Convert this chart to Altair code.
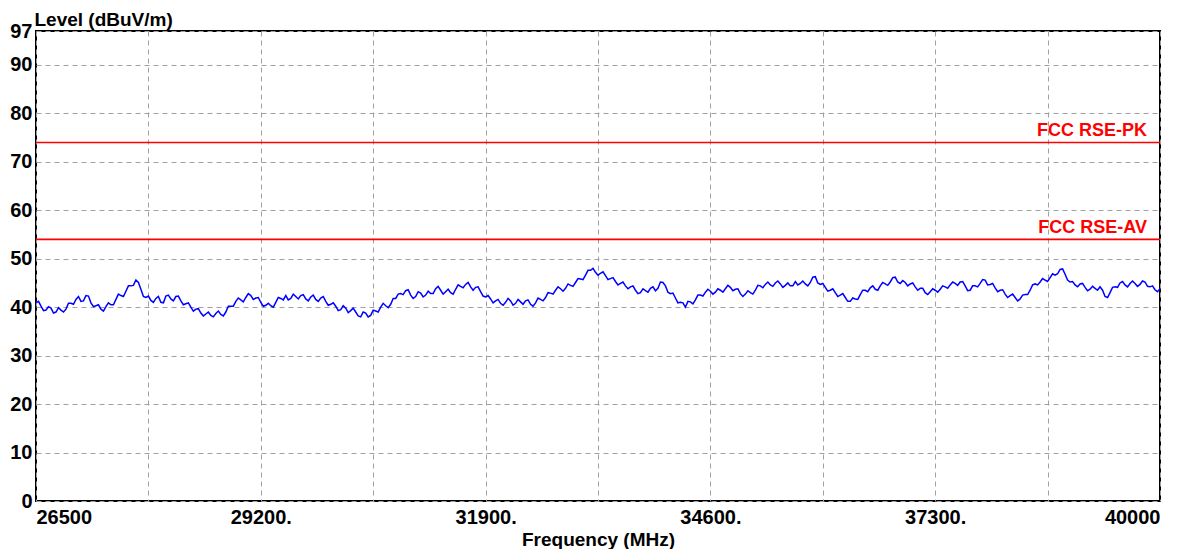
import altair as alt
import pandas as pd

# Sweep: 26500 MHz to 40000 MHz, one reading every 30 MHz
F_START = 26500
F_STEP = 30
LEVEL = [
    40.9, 41.2, 40.2, 39.3, 39.4, 40.1, 39.8, 38.8, 39.0, 39.9, 39.4, 39.0, 39.6, 40.8, 40.8, 40.6, 41.6, 42.2, 41.2, 41.3,
    42.4, 42.3, 40.9, 40.1, 40.3, 40.5, 39.6, 39.2, 40.1, 40.9, 40.5, 40.5, 41.6, 42.7, 42.4, 42.2, 43.3, 44.4, 44.4, 44.5,
    45.6, 45.1, 43.7, 42.2, 42.0, 42.3, 41.4, 41.0, 41.8, 42.2, 41.0, 40.9, 42.3, 42.5, 41.7, 41.3, 42.2, 42.3, 41.3, 40.5,
    40.7, 40.9, 40.0, 39.2, 39.6, 39.7, 38.8, 38.2, 38.6, 39.0, 38.3, 38.0, 38.7, 39.2, 38.5, 38.2, 39.0, 40.2, 40.2, 40.2,
    41.2, 41.9, 41.5, 41.1, 42.0, 42.8, 42.4, 41.6, 41.9, 42.0, 41.0, 40.2, 40.4, 40.8, 40.3, 40.0, 41.0, 42.0, 41.8, 41.5,
    42.4, 41.5, 41.8, 42.7, 42.2, 41.7, 42.4, 42.6, 41.7, 41.3, 42.1, 42.5, 41.6, 41.2, 41.9, 42.2, 41.2, 40.4, 40.6, 40.9,
    40.2, 39.3, 39.5, 40.3, 39.8, 38.9, 39.3, 39.8, 39.0, 38.2, 38.0, 39.0, 38.8, 38.0, 38.3, 39.4, 39.2, 39.0, 40.0, 40.8,
    40.3, 39.9, 40.6, 41.8, 41.8, 42.7, 42.8, 42.6, 43.4, 43.6, 42.5, 41.8, 42.2, 43.2, 42.9, 42.1, 42.5, 43.3, 42.8, 42.8,
    43.8, 44.3, 43.5, 42.7, 43.2, 43.7, 43.0, 42.7, 43.7, 44.6, 44.3, 44.0, 44.7, 45.1, 44.2, 43.5, 44.1, 44.2, 43.2, 42.3,
    42.1, 42.4, 41.7, 40.9, 41.3, 41.6, 40.8, 40.4, 41.0, 41.8, 41.3, 40.4, 40.8, 41.6, 41.1, 40.6, 41.3, 41.5, 40.6, 40.2,
    40.9, 41.9, 41.6, 41.3, 42.0, 43.0, 42.9, 42.7, 43.5, 44.2, 43.8, 43.3, 43.9, 44.8, 44.5, 44.3, 45.1, 45.9, 45.8, 45.7,
    46.6, 47.6, 47.6, 48.0, 47.2, 46.6, 47.0, 47.3, 46.5, 45.7, 45.9, 46.1, 45.3, 44.6, 44.9, 45.2, 44.4, 43.8, 44.2, 44.4,
    43.5, 42.8, 43.0, 43.8, 43.4, 43.1, 43.9, 44.2, 43.4, 43.9, 45.2, 45.1, 44.4, 43.1, 42.8, 42.9, 41.9, 40.9, 41.0, 40.9,
    40.0, 41.2, 41.1, 40.7, 41.5, 42.5, 42.5, 42.3, 43.1, 43.7, 43.3, 42.7, 43.1, 43.8, 43.5, 43.1, 43.8, 44.5, 44.1, 43.4,
    43.7, 43.8, 42.8, 42.2, 42.7, 43.4, 43.0, 42.7, 43.5, 44.5, 44.4, 44.0, 44.7, 45.2, 44.6, 44.3, 45.0, 45.4, 44.8, 44.1,
    44.5, 45.0, 44.4, 44.4, 45.3, 44.6, 44.9, 45.4, 44.8, 44.4, 45.1, 46.2, 46.3, 45.0, 44.7, 44.9, 44.1, 43.3, 43.5, 43.8,
    43.0, 42.2, 42.5, 42.8, 42.0, 41.2, 41.2, 41.9, 41.7, 41.6, 42.6, 43.5, 43.5, 43.2, 44.0, 44.4, 43.7, 43.5, 44.4, 45.1,
    44.8, 44.5, 45.2, 46.1, 46.2, 45.2, 44.9, 45.5, 45.1, 44.4, 44.8, 45.0, 44.2, 43.5, 43.9, 43.9, 43.0, 42.6, 43.2, 43.8,
    43.5, 43.1, 43.7, 44.4, 44.2, 43.9, 44.6, 45.2, 44.9, 44.5, 45.2, 45.3, 44.4, 43.4, 43.5, 44.4, 44.4, 44.2, 44.9, 45.7,
    45.6, 44.6, 44.7, 44.9, 44.0, 43.2, 43.5, 43.6, 42.7, 42.0, 42.4, 42.7, 42.0, 41.3, 41.7, 42.5, 42.6, 42.6, 43.5, 44.6,
    44.8, 44.6, 45.2, 45.9, 45.6, 45.3, 46.1, 46.9, 46.6, 46.9, 47.8, 47.9, 46.8, 45.6, 45.2, 45.3, 44.6, 44.2, 44.8, 44.9,
    44.1, 43.4, 43.7, 44.3, 43.9, 43.5, 44.2, 43.5, 42.2, 42.0, 43.0, 44.1, 44.2, 44.1, 45.0, 45.3, 44.6, 44.2, 44.9, 45.4,
    44.9, 44.3, 44.7, 45.4, 45.2, 44.3, 44.2, 44.4, 43.6, 43.2, 43.8,
]
FREQ = [F_START + F_STEP * i for i in range(len(LEVEL))]

LIMIT_NAMES = ["FCC RSE-PK", "FCC RSE-AV"]
LIMIT_VALUES = [74, 54]
LIMIT_LABEL_FREQ = 40000

X_TICKS = [26500 + 1350 * k for k in range(11)]
Y_TICKS = [0, 10, 20, 30, 40, 50, 60, 70, 80, 90, 97]

trace = pd.DataFrame({"freq": FREQ, "level": LEVEL})
limits = pd.DataFrame({
    "name": LIMIT_NAMES,
    "level": LIMIT_VALUES,
    "freq": [LIMIT_LABEL_FREQ] * len(LIMIT_NAMES),
})

FONT = "Liberation Sans"
GRID_COLOR = "#a0a0a0"

x_scale = alt.Scale(domain=[26500, 40000], nice=False, zero=False)
y_scale = alt.Scale(domain=[0, 97], nice=False, zero=True)

x_axis = alt.Axis(
    title="Frequency (MHz)",
    values=X_TICKS,
    labelExpr="(datum.value - 26500) % 2700 == 0 ? ((datum.value == 26500 || datum.value == 40000) ? datum.value + '' : datum.value + '.') : ''",
    labelFlush=True,
    labelOverlap=False,
    labelPadding=6,
    ticks=False,
    domain=False,
    grid=True,
    gridColor=GRID_COLOR,
    gridDash=[5, 4],
    gridWidth=1,
    labelFont=FONT,
    labelFontSize=20,
    labelFontWeight="bold",
    labelColor="#000000",
    titleFont=FONT,
    titleFontSize=19,
    titleFontWeight="bold",
    titleColor="#000000",
    titleBaseline="alphabetic",
    titleY=44,
)

y_axis = alt.Axis(
    title="Level (dBuV/m)",
    values=Y_TICKS,
    labelOverlap=False,
    labelPadding=4,
    ticks=False,
    domain=False,
    grid=True,
    gridColor=GRID_COLOR,
    gridDash=[5, 4],
    gridWidth=1,
    labelFont=FONT,
    labelFontSize=20,
    labelFontWeight="bold",
    labelColor="#000000",
    labelBaseline="middle",
    titleFont=FONT,
    titleFontSize=19,
    titleFontWeight="bold",
    titleColor="#000000",
    titleAngle=0,
    titleAlign="left",
    titleBaseline="alphabetic",
    titleX=-2,
    titleY=-6,
)

line = alt.Chart(trace).mark_line(color="#0000ff", strokeWidth=1.5).encode(
    x=alt.X("freq:Q", scale=x_scale, axis=x_axis),
    y=alt.Y("level:Q", scale=y_scale, axis=y_axis),
)

rules = alt.Chart(limits).mark_rule(color="#ff0000", strokeWidth=1.6).encode(
    y=alt.Y("level:Q", scale=y_scale),
)

labels = alt.Chart(limits).mark_text(
    color="#ff0000",
    font=FONT,
    fontSize=18,
    fontWeight="bold",
    align="right",
    baseline="alphabetic",
    dx=-13,
    dy=-6,
).encode(
    x=alt.X("freq:Q", scale=x_scale),
    y=alt.Y("level:Q", scale=y_scale),
    text="name:N",
)

chart = alt.layer(rules, line, labels).properties(
    width=1124,
    height=470,
    autosize=alt.AutoSizeParams(type="none"),
    padding={"left": 28, "top": 23, "right": 12, "bottom": 48},
    background="#ffffff",
).configure_view(
    stroke="#000000",
    strokeWidth=2,
)

chart.save("out.html", embed_options={"renderer": "svg", "actions": False})
